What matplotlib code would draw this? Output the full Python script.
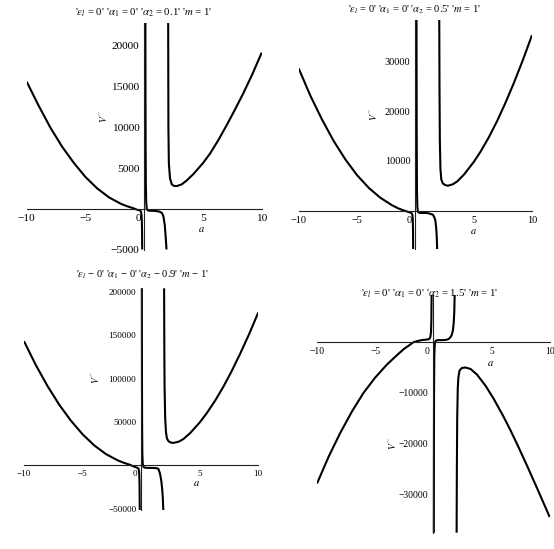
import matplotlib
matplotlib.use("Agg")
import matplotlib.pyplot as plt

plt.rcParams['font.family'] = ['Liberation Serif', 'DejaVu Serif']
plt.rcParams['mathtext.fontset'] = 'stix'
plt.rcParams['axes.unicode_minus'] = True

W, H = 554, 549

# ---------------- data ----------------
titles = [
    r"'$\epsilon_l$ = 0' '$\alpha_1$ = 0' '$\alpha_2$ = 0.1' '$m$ = 1'",
    r"'$\epsilon_l$ = 0' '$\alpha_1$ = 0' '$\alpha_2$ = 0.5' '$m$ = 1'",
    r"'$\epsilon_l$ − 0' '$\alpha_1$ − 0' '$\alpha_2$ − 0.9' '$m$ − 1'",
    r"'$\epsilon_l$ = 0' '$\alpha_1$ = 0' '$\alpha_2$ = 1.5' '$m$ = 1'",
]
x_ticks = [-10, -5, 5, 10]
y_ticks = [
    [-5000, 5000, 10000, 15000, 20000],
    [10000, 20000, 30000],
    [-50000, 50000, 100000, 150000, 200000],
    [-10000, -20000, -30000],
]
y_limits = [(-5000, 22800), (-7750, 38300), (-51500, 204000), (-37600, 9300)]

# panel 1 (alpha2 = 0.1)
p1_left_a = [-10, -9, -8, -7, -6, -5, -4, -3, -2, -1.5, -1, -0.6, -0.35, -0.28, -0.23, -0.2, -0.18, -0.17]
p1_left_v = [15600, 12700, 10000, 7650, 5650, 3900, 2500, 1400, 620, 330, 100, -120, -200, -350, -700, -1500, -3000, -5000]
p1_mid_a = [0.10, 0.11, 0.12, 0.14, 0.17, 0.22, 0.3, 0.5, 0.8, 1.1, 1.3, 1.5, 1.63, 1.75, 1.83, 1.9]
p1_mid_v = [22800, 14000, 8000, 3000, 800, 0, -200, -250, -250, -300, -350, -500, -900, -2000, -3500, -5000]
p1_right_a = [2.04, 2.06, 2.1, 2.2, 2.35, 2.5, 2.77, 3.2, 3.6, 4.18, 5, 5.6, 6.3, 7.02, 7.7, 8.43, 9.2, 10]
p1_right_v = [22800, 10000, 5500, 3700, 3000, 2820, 2780, 3000, 3450, 4250, 5600, 6770, 8400, 10260, 12100, 14160, 16500, 19160]

# panel 2 (alpha2 = 0.5)
p2_left_a = [-10, -9, -8, -7, -6, -5, -4, -3, -2, -1.5, -1, -0.6, -0.4, -0.3, -0.25, -0.22, -0.2, -0.19]
p2_left_v = [28560, 23100, 18300, 14000, 10300, 7150, 4600, 2600, 1100, 500, 50, -250, -400, -550, -900, -1800, -4000, -7750]
p2_mid_a = [0.10, 0.11, 0.12, 0.14, 0.17, 0.22, 0.3, 0.5, 0.8, 1.1, 1.3, 1.5, 1.6, 1.71, 1.78, 1.83, 1.87]
p2_mid_v = [38300, 22000, 12000, 4000, 800, -200, -400, -450, -450, -500, -650, -800, -1200, -1900, -3300, -5000, -7750]
p2_right_a = [2.05, 2.07, 2.1, 2.15, 2.22, 2.35, 2.55, 2.8, 3.2, 3.6, 4.18, 5, 5.6, 6.3, 7.02, 7.7, 8.43, 9.2, 10]
p2_right_v = [38300, 25000, 14000, 8500, 6300, 5500, 5150, 5020, 5300, 5900, 7290, 9770, 11900, 14750, 18060, 21540, 25570, 30150, 35260]

# panel 3 (alpha2 = 0.9)
p3_left_a = [-10, -9, -8, -7, -6, -5, -4, -3, -2, -1.5, -1, -0.6, -0.4, -0.3, -0.22, -0.17, -0.14, -0.12]
p3_left_v = [143000, 115800, 91500, 70000, 51500, 35750, 22900, 12900, 5700, 3000, 800, -1500, -2500, -3000, -4000, -8000, -20000, -51500]
p3_mid_a = [0.06, 0.07, 0.08, 0.1, 0.13, 0.18, 0.3, 0.6, 1.0, 1.3, 1.47, 1.61, 1.72, 1.8, 1.85, 1.89]
p3_mid_v = [204000, 100000, 50000, 15000, 3000, -1500, -2700, -3000, -3000, -3300, -4000, -9600, -18000, -28000, -38000, -51500]
p3_right_a = [1.96, 1.98, 2.0, 2.05, 2.12, 2.2, 2.35, 2.55, 2.75, 3.2, 3.6, 4.18, 5, 5.6, 6.3, 7.02, 7.7, 8.43, 9.2, 10]
p3_right_v = [204000, 130000, 90000, 55000, 38000, 31000, 27500, 26200, 25800, 27200, 30200, 37100, 49400, 60100, 74200, 90600, 107900, 128000, 150700, 176150]

# panel 4 (alpha2 = 1.5)
p4_left_a = [-10, -9, -8, -7, -6, -5, -4, -3, -2.5, -2, -1.7, -1.3, -1, -0.6, -0.35, -0.26, -0.2, -0.17, -0.15]
p4_left_v = [-27900, -22600, -17900, -13700, -10000, -7000, -4450, -2300, -1300, -500, 0, 250, 400, 500, 600, 1000, 2000, 4500, 9300]
p4_mid_a = [0.04, 0.05, 0.06, 0.08, 0.11, 0.15, 0.22, 0.4, 0.8, 1.1, 1.3, 1.45, 1.58, 1.68, 1.75, 1.8, 1.83]
p4_mid_v = [-37600, -20000, -10000, -3000, -800, 0, 300, 400, 400, 450, 600, 900, 1400, 2300, 3800, 6000, 9300]
p4_right_a = [2.0, 2.02, 2.05, 2.1, 2.15, 2.25, 2.45, 2.75, 3.2, 3.75, 4.5, 5.2, 6, 6.6, 7.3, 8.05, 9, 10]
p4_right_v = [-37600, -25000, -15000, -9000, -7000, -5600, -5100, -5000, -5300, -6400, -8650, -11240, -14560, -17260, -20620, -24370, -29260, -34510]

branches = [
    [(p1_left_a, p1_left_v), (p1_mid_a, p1_mid_v), (p1_right_a, p1_right_v)],
    [(p2_left_a, p2_left_v), (p2_mid_a, p2_mid_v), (p2_right_a, p2_right_v)],
    [(p3_left_a, p3_left_v), (p3_mid_a, p3_mid_v), (p3_right_a, p3_right_v)],
    [(p4_left_a, p4_left_v), (p4_mid_a, p4_mid_v), (p4_right_a, p4_right_v)],
]

# ---------------- layout (pixel boxes: left, right, top, bottom) ----------------
boxes = [(26.7, 261.7, 23.0, 249.5),
         (298.7, 532.0, 20.0, 249.3),
         (24.0, 258.3, 288.3, 510.0),
         (317.0, 549.7, 295.0, 532.7)]
title_pos = [(144, 13), (414, 9.5), (142, 275), (430, 293.5)]
ylabel_pos = [(104, 117), (373.7, 115), (96.0, 378), (392.5, 444)]
xlabel_pos = [(201.7, 229.5), (473.7, 232), (196.7, 483), (490.3, 363.5)]
tick_fs = [8.2, 7.4, 6.6, 6.9]
title_fs = [7.8, 7.6, 7.6, 7.8]

fig = plt.figure(figsize=(W / 100, H / 100), dpi=100)

for i in range(4):
    l, r, t, b = boxes[i]
    ax = fig.add_axes([l / W, 1 - b / H, (r - l) / W, (b - t) / H])
    for a, v in branches[i]:
        ax.plot(a, v, color='black', lw=1.5, solid_capstyle='butt')
    ax.set_xlim(-10, 10)
    ax.set_ylim(*y_limits[i])
    ax.spines['left'].set_position(('data', 0))
    ax.spines['bottom'].set_position(('data', 0))
    ax.spines['top'].set_visible(False)
    ax.spines['right'].set_visible(False)
    for s in ('left', 'bottom'):
        ax.spines[s].set_linewidth(0.8)
        ax.spines[s].set_color('#222222')
    ax.set_xticks(x_ticks)
    ax.set_yticks(y_ticks[i])
    ax.tick_params(length=0, labelsize=tick_fs[i], pad=3.5)
    ax.patch.set_alpha(0)
    ax.annotate('0', xy=(0, 0), xytext=(-4.5, -3.5), textcoords='offset points',
                ha='center', va='top', fontsize=tick_fs[i])
    tx, ty = title_pos[i]
    fig.text(tx / W, 1 - ty / H, titles[i], ha='center', va='center', fontsize=title_fs[i])
    yx, yy = ylabel_pos[i]
    fig.text(yx / W, 1 - yy / H, r"$V''$", ha='center', va='center', rotation=90, fontsize=7)
    xx, xy = xlabel_pos[i]
    fig.text(xx / W, 1 - xy / H, r"$a$", ha='center', va='center', fontsize=7.6)

fig.savefig('out.png', dpi=100, facecolor='white')
